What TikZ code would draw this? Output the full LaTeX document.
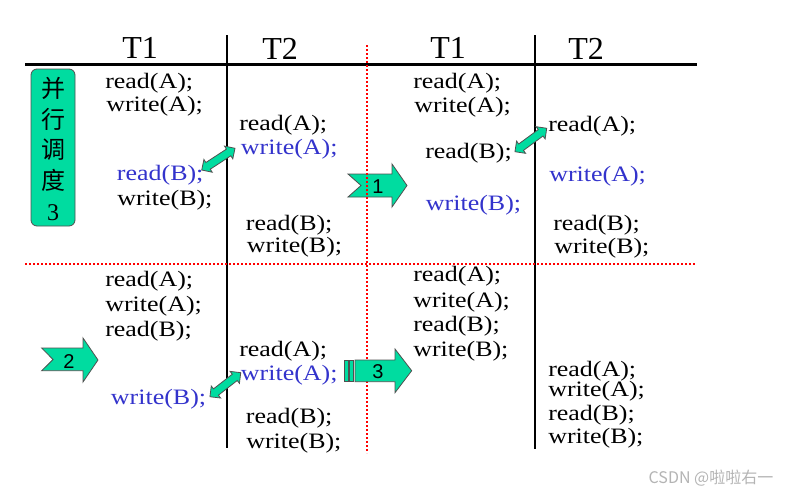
\documentclass[tikz,border=0pt]{standalone}
\usepackage{fontspec}
\setmainfont{Liberation Serif}
\newfontfamily\codefont[FakeStretch=1.18]{Liberation Serif}
\newfontfamily\numfont{Liberation Sans}
\newfontfamily\cjk{Noto Sans CJK SC}
\usetikzlibrary{shapes.arrows,calc}
\definecolor{blockgreen}{RGB}{0,220,160}
\definecolor{codeblue}{RGB}{51,51,204}
\definecolor{rimgray}{RGB}{80,80,80}
\definecolor{markgray}{RGB}{180,180,180}
\tikzset{
  code/.style={font=\codefont\fontsize{16.5}{18}\selectfont, anchor=base west, inner sep=0pt},
  bcode/.style={code, text=codeblue},
  hdr/.style={font=\fontsize{24}{26}\selectfont, anchor=base west, inner sep=0pt},
  rule/.style={line width=1.9pt, black},
  redline/.style={red, line width=1.8pt, dash pattern=on 1.6pt off 1.4pt},
  blockarrow/.style={fill=blockgreen, draw=rimgray, line width=0.6pt},
  dblarr/.style={double arrow, fill=blockgreen, draw=rimgray, line width=0.6pt,
    inner xsep=0pt, inner ysep=2.7pt, double arrow head extend=2.7pt},
  arrnum/.style={font=\numfont\fontsize{15}{16}\selectfont, inner sep=0pt},
}
\begin{document}
\begin{tikzpicture}[x=0.75pt, y=-0.75pt]
\useasboundingbox (0,0) rectangle (794,496);
\fill[white] (0,0) rectangle (794,496);

% headers
\node[hdr] (h1) at (122,58) {T1};
\node[hdr] (h2) at (262,60) {T2};
\node[hdr] (h3) at (430,58) {T1};
\node[hdr] (h4) at (568,60) {T2};

% black rules
\coordinate (tl) at (25,64.5);
\coordinate (tr) at (697,64.5);
\coordinate (v1t) at (227,35);
\coordinate (v1b) at (227,448);
\coordinate (v2t) at (535,35);
\coordinate (v2b) at (535,449);
\draw[rule] (tl) -- (tr);
\draw[rule] (v1t) -- (v1b);
\draw[rule] (v2t) -- (v2b);

% arrow 1 (under the red line)
\path[blockarrow] (348,174) -- (392,174) -- (392,164) -- (407,185.5) -- (392,207)
  -- (392,197) -- (348,197) -- (361,185.5) -- cycle;
\node[arrnum] (n1) at (378,187) {1};

% red dotted rules
\coordinate (rvt) at (367,45);
\coordinate (rvb) at (367,453);
\coordinate (rhl) at (25,264);
\coordinate (rhr) at (695,264);
\draw[redline] (rvt) -- (rvb);
\draw[redline] (rhl) -- (rhr);

% arrow 2
\path[blockarrow] (41.7,348) -- (83,348) -- (83,338) -- (98,360) -- (83,382)
  -- (83,370.7) -- (41.7,370.7) -- (53,359.5) -- cycle;
\node[arrnum] (n2) at (69,362) {2};

% arrow 3
\path[blockarrow] (344,360) rectangle (348,381.7);
\path[blockarrow] (349,360) rectangle (353,381.7);
\path[blockarrow] (355,360) -- (395,360) -- (395,349) -- (411.7,370.7) -- (395,392.7)
  -- (395,381.7) -- (355,381.7) -- cycle;
\node[arrnum] (n3) at (378,371.7) {3};

% label box
\node[fill=blockgreen, draw=rimgray, line width=0.6pt, rounded corners=4.5pt,
      minimum width=33pt, minimum height=117.75pt, inner sep=0pt] (box) at (53,147.5) {};
\node[align=center, inner sep=0pt, font=\cjk\fontsize{18}{23.2}\selectfont] (boxtext) at (53,149)
  {并\\行\\调\\度\\{\rmfamily 3}};

% quadrant 1
\node[code]  (a1) at (105,88.3)   {read(A);};
\node[code]  (a2) at (106,111.7)  {write(A);};
\node[code]  (a3) at (239,130)    {read(A);};
\node[bcode] (a4) at (240.7,154)  {write(A);};
\node[bcode] (a5) at (116.7,180)  {read(B);};
\node[code]  (a6) at (117,205)    {write(B);};
\node[code]  (a7) at (245.7,230)  {read(B);};
\node[code]  (a8) at (246.7,252.7){write(B);};

% quadrant 2
\node[code]  (b1) at (413,88)     {read(A);};
\node[code]  (b2) at (414,112.7)  {write(A);};
\node[code]  (b3) at (425,158)    {read(B);};
\node[bcode] (b4) at (425.7,210)  {write(B);};
\node[code]  (b5) at (548,131.7)  {read(A);};
\node[bcode] (b6) at (549,181.7)  {write(A);};
\node[code]  (b7) at (553,230)    {read(B);};
\node[code]  (b8) at (554,253)    {write(B);};

% quadrant 3
\node[code]  (c1) at (105,286.7)  {read(A);};
\node[code]  (c2) at (105,311.7)  {write(A);};
\node[code]  (c3) at (105,336.7)  {read(B);};
\node[code]  (c4) at (239,356)    {read(A);};
\node[bcode] (c5) at (240.7,380)  {write(A);};
\node[bcode] (c6) at (110.7,404)  {write(B);};
\node[code]  (c7) at (245.7,423)  {read(B);};
\node[code]  (c8) at (246,448)    {write(B);};

% quadrant 4
\node[code]  (d1) at (413,281.7)  {read(A);};
\node[code]  (d2) at (413,307)    {write(A);};
\node[code]  (d3) at (413,331.7)  {read(B);};
\node[code]  (d4) at (413,356.7)  {write(B);};
\node[code]  (d5) at (548,376.7)  {read(A);};
\node[code]  (d6) at (548,396.7)  {write(A);};
\node[code]  (d7) at (548,420)    {read(B);};
\node[code]  (d8) at (548,443)    {write(B);};

% double arrows between conflicting operations
\coordinate (p1a) at (201.7,170);   \coordinate (p1b) at (235,148.3);
\coordinate (p2a) at (515,151.7);   \coordinate (p2b) at (546.7,128.3);
\coordinate (p3a) at (210,396.7);   \coordinate (p3b) at (240.7,372.7);
\node[dblarr, rotate=33.1, minimum height=29.8pt] (da1) at ($(p1a)!0.5!(p1b)$) {};
\node[dblarr, rotate=36.4, minimum height=29.6pt] (da2) at ($(p2a)!0.5!(p2b)$) {};
\node[dblarr, rotate=38.0, minimum height=29.3pt] (da3) at ($(p3a)!0.5!(p3b)$) {};

% watermark
\node[font=\cjk\fontsize{12}{14}\selectfont, text=markgray, inner sep=0pt] (wm) at (711,478) {CSDN @啦啦右一};
\end{tikzpicture}
\end{document}
